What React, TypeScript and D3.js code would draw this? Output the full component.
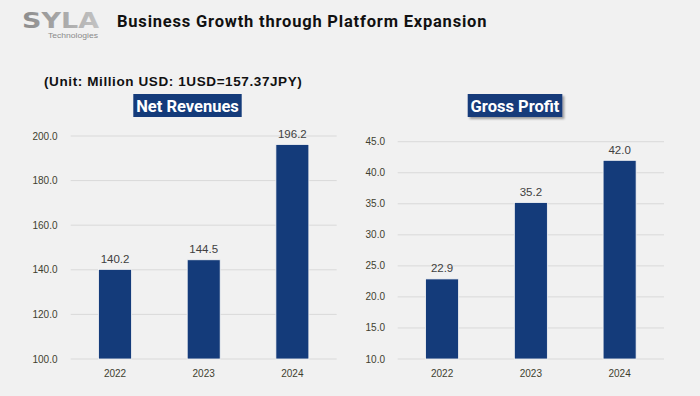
import * as d3 from "d3";

const W = 700, H = 396;

// data
const years = ["2022", "2023", "2024"];
const netRevenues = [140.2, 144.5, 196.2];
const grossProfit = [22.9, 35.2, 42.0];
const revenueTicks = [100, 120, 140, 160, 180, 200];
const profitTicks = [10, 15, 20, 25, 30, 35, 40, 45];

const BAR = "#143B7A";
const TICK_INK = "#3F3F2F";
const FONT = "'Liberation Sans', Arial, sans-serif";

type PanelProps = {
  title: string;
  values: number[];
  ticks: number[];
  top: number;
  x0: number;
  x1: number;
  labelX: number;
  titleBox: [number, number];
  shadow?: boolean;
};

function Panel({ title, values, ticks, top, x0, x1, labelX, titleBox, shadow }: PanelProps) {
  const yScale = d3.scaleLinear([ticks[0], ticks[ticks.length - 1]], [359, top]);
  const xScale = d3.scaleBand(years, [x0, x1]).paddingInner(0.628).paddingOuter(0.314);
  const base = yScale(ticks[0]);

  return (
    <g>
      {/* Title tag */}
      <rect x={titleBox[0]} y={94} width={titleBox[1] - titleBox[0]} height={23} fill={BAR}
        filter={shadow ? "url(#tagShadow)" : undefined} />
      <text x={(titleBox[0] + titleBox[1]) / 2} y={111.5} textAnchor="middle" fill="#fff"
        fontFamily="Roboto, sans-serif" fontWeight="bold" fontSize="16.5">
        {title}
      </text>

      {/* Grid + y labels */}
      {ticks.map((t) => (
        <g key={t}>
          <line x1={x0} x2={x1} y1={yScale(t)} y2={yScale(t)} stroke="#D9D9D9" strokeWidth="1" />
          <text x={labelX} y={yScale(t) + 3.5} textAnchor="end" fontSize="10" fill={TICK_INK} fontFamily={FONT}>
            {t.toFixed(1)}
          </text>
        </g>
      ))}

      {/* Bars */}
      {values.map((v, i) => (
        <g key={years[i]}>
          <rect x={xScale(years[i])} y={yScale(v)} width={xScale.bandwidth()} height={base - yScale(v)}
            fill={BAR} stroke="#F7F7F7" strokeWidth="0.8" />
          <text x={xScale(years[i])! + xScale.bandwidth() / 2} y={yScale(v) - 6.5} textAnchor="middle"
            fontSize="11.5" fill="#404040" fontFamily={FONT}>
            {v.toFixed(1)}
          </text>
          <text x={xScale(years[i])! + xScale.bandwidth() / 2} y={377} textAnchor="middle"
            fontSize="10" fill={TICK_INK} fontFamily={FONT}>
            {years[i]}
          </text>
        </g>
      ))}
    </g>
  );
}

export default function App() {
  return (
    <div style={{ position: "fixed", left: 0, top: 0 }}>
      <svg width={W} height={H} style={{ display: "block" }}>
        <defs>
          <linearGradient id="logoGrad" x1="0" y1="0" x2="1" y2="0">
            <stop offset="0" stopColor="#8C8C8C" />
            <stop offset="0.5" stopColor="#A8A8A8" />
            <stop offset="1" stopColor="#C4C4C4" />
          </linearGradient>
          <filter id="tagShadow" x="-10%" y="-20%" width="130%" height="160%">
            <feDropShadow dx="2" dy="2" stdDeviation="1.2" floodColor="#000" floodOpacity="0.35" />
          </filter>
        </defs>
        <rect width={W} height={H} fill="#F1F1F1" />

        {/* Logo */}
        <text x={22} y={28} fontFamily="'DejaVu Sans', sans-serif" fontWeight="bold" fontSize="21"
          fill="url(#logoGrad)" textLength={77} lengthAdjust="spacingAndGlyphs">
          SYLA
        </text>
        <text x={48} y={37.5} fontFamily={FONT} fontSize="6.8" fill="#8A8A8A" textLength={50}
          lengthAdjust="spacingAndGlyphs">
          Technologies
        </text>

        {/* Header */}
        <text x={117} y={27} fontFamily="Roboto, sans-serif" fontWeight="bold" fontSize="16.5"
          fill="#111" letterSpacing="0.8">
          Business Growth through Platform Expansion
        </text>
        <text x={44} y={86} fontFamily={FONT} fontWeight="bold" fontSize="13.5" fill="#111"
          letterSpacing="0.6">
          (Unit: Million USD: 1USD=157.37JPY)
        </text>

        <Panel title="Net Revenues" values={netRevenues} ticks={revenueTicks} top={136}
          x0={70.7} x1={336.7} labelX={57.5} titleBox={[133.3, 241.7]} />
        <Panel title="Gross Profit" values={grossProfit} ticks={profitTicks} top={141.7}
          x0={397.7} x1={664} labelX={385} titleBox={[467.7, 562.3]} shadow />
      </svg>
    </div>
  );
}
